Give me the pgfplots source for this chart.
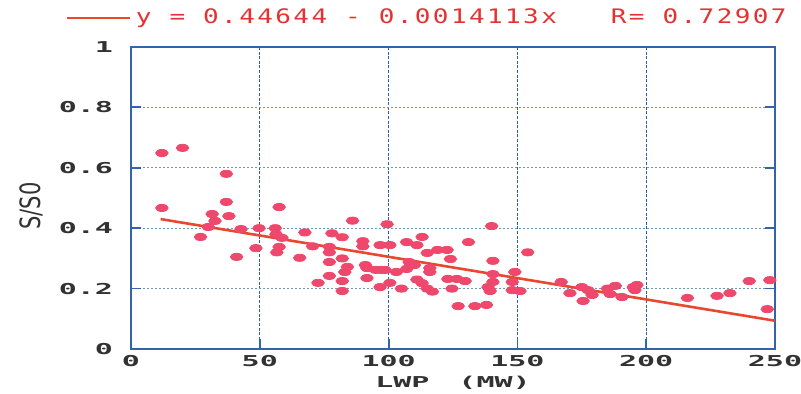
\documentclass[border=0pt]{standalone}
\usepackage{fontspec}
\usepackage{pgfplots}
\pgfplotsset{compat=1.18}
\newfontfamily\tickfont[FakeStretch=2]{DejaVu Sans Mono Bold}
\newfontfamily\legfont[FakeStretch=1.3,LetterSpace=12]{DejaVu Sans Mono}
\newfontfamily\labfont[FakeStretch=0.75]{DejaVu Sans}
\newcommand\gap{\hspace{9bp}}
\definecolor{framec}{RGB}{50,100,170}
\definecolor{gridv}{RGB}{45,95,165}
\definecolor{gridh}{RGB}{110,150,185}
\definecolor{linered}{RGB}{232,72,48}
\definecolor{ptred}{RGB}{238,72,108}
\definecolor{legred}{RGB}{228,50,50}
\definecolor{txtc}{RGB}{50,50,50}
\pgfplotstableread{
x y
12 0.649
20 0.666
37 0.58
12 0.467
37 0.487
31.5 0.447
38 0.44
32.6 0.424
30 0.404
27 0.371
42.7 0.397
49.7 0.40
41 0.305
48.5 0.334
57.5 0.47
56 0.40
56.3 0.38
58.6 0.368
57.5 0.338
56.6 0.32
65.5 0.302
86 0.425
99.4 0.413
67.5 0.386
78 0.383
82 0.37
70.5 0.34
77 0.338
77 0.32
90 0.357
90 0.34
96.7 0.344
100.5 0.344
107 0.354
111 0.344
77 0.288
82 0.30
84 0.272
83 0.255
91 0.278
91.6 0.268
95 0.262
97 0.262
98.6 0.262
103 0.255
107 0.265
111 0.23
77 0.242
72.6 0.219
82 0.225
91.6 0.235
96.7 0.205
100.5 0.219
105 0.20
82 0.192
140 0.407
113 0.371
131 0.354
119 0.328
122.7 0.328
115 0.318
154 0.32
124 0.298
140.5 0.292
116 0.268
116 0.255
110 0.278
123 0.232
126.5 0.232
129.7 0.225
140.5 0.248
140.5 0.222
149 0.255
148 0.222
113 0.218
115 0.20
117 0.19
124.6 0.20
138.6 0.205
139.4 0.192
148 0.195
151 0.192
127 0.142
133.5 0.142
138 0.146
108 0.288
167 0.222
170.4 0.185
175 0.205
177.4 0.195
175.5 0.159
179 0.179
185 0.20
188 0.209
186 0.182
190.6 0.172
195 0.205
196.4 0.212
195.6 0.195
216 0.169
227.5 0.176
232.5 0.185
240 0.225
248 0.228
247 0.132
}\scatterdata
\begin{document}
\begin{tikzpicture}
\useasboundingbox (-65.5bp,-22.5bp) rectangle (335bp,174.5bp);
\begin{axis}[
  at={(0,0)}, anchor=south west,
  scale only axis, width=322bp, height=151bp,
  xmin=0, xmax=250, ymin=0, ymax=1,
  xtick={0,50,100,150,200,250},
  xticklabels={0,50,100,150,200,250},
  ytick={0,0.2,0.4,0.6,0.8,1},
  yticklabels={0,0.2,0.4,0.6,0.8,1},
  grid=major,
  x grid style={gridv, line width=0.6bp, dash pattern=on 1.5bp off 0.8bp},
  y grid style={gridh, line width=0.6bp, dash pattern=on 1bp off 1bp},
  axis line style={framec, line width=0.9bp},
  tick style={framec, line width=0.9bp},
  tick align=inside, major tick length=5bp,
  ytick pos=both, xtick pos=bottom,
  every tick label/.append style={inner sep=0pt, outer sep=0pt, text=txtc,
     font=\tickfont\fontsize{7.5bp}{9bp}\selectfont},
  yticklabel style={anchor=east, xshift=-9bp},
  xticklabel style={anchor=north, yshift=-3bp},
  xlabel={LWP\hspace{14.5bp}(MW)},
  xlabel style={at={(axis description cs:0.5,0)}, anchor=center, yshift=-17bp,
     inner sep=0pt, text=txtc, font=\tickfont\fontsize{7.5bp}{9bp}\selectfont},
  ylabel={S/S0},
  ylabel style={at={(axis description cs:-0.155,0.473)}, anchor=center,
     inner sep=0pt, text=txtc, font=\labfont\fontsize{14bp}{16bp}\selectfont},
  legend style={at={(axis description cs:-0.102,1.096)}, anchor=west,
     draw=none, fill=none, inner sep=0pt, outer sep=0pt,
     nodes={inner sep=0pt, text=legred},
     font=\legfont\fontsize{10bp}{12bp}\selectfont},
  legend image code/.code={\draw[#1] (0bp,0bp) -- (31.5bp,0bp);},
  legend cell align=left,
]
\addplot[only marks, mark=*, mark size=1.8bp, color=ptred,
  mark options={xscale=1.75, fill=ptred, draw=ptred}, forget plot]
  table[x=x, y=y] {\scatterdata};
\addplot[linered, line width=1.3bp] coordinates {(11.5,0.43021) (250,0.093615)};
\addlegendentry{\hspace{2.5bp}y\gap=\gap0.44644\gap-\gap0.0014113x\gap\gap\gap R=\gap0.72907}
\end{axis}
\end{tikzpicture}
\end{document}
